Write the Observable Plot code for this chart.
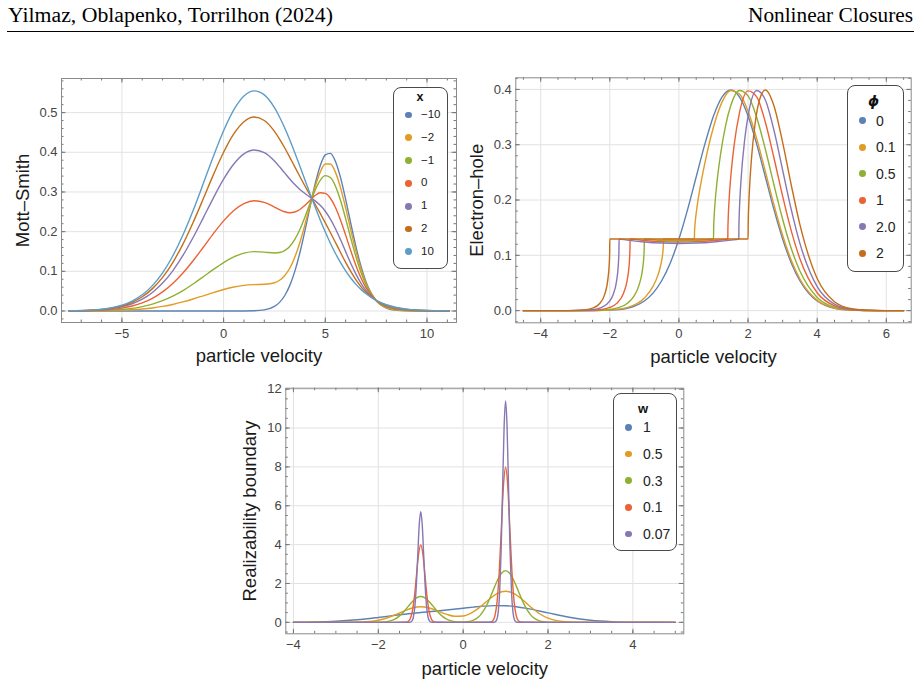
<!DOCTYPE html>
<html><head><meta charset="utf-8">
<script src="https://cdn.jsdelivr.net/npm/d3@7"></script>
<script src="https://cdn.jsdelivr.net/npm/@observablehq/plot@0.6"></script>
<style>
body{margin:0;background:#fff;}
#page{position:relative;width:921px;height:685px;overflow:hidden;font-family:"Liberation Sans",Arial,sans-serif;background:#fff;}
.legend{position:absolute;border:1px solid #4a4a4a;border-radius:8px;background:#fff;box-sizing:border-box;}
.ltitle{position:absolute;transform:translate(-50%,-50%);line-height:1;color:#111;white-space:nowrap;}
.ltext{position:absolute;transform:translateY(-50%);line-height:1;color:#222;white-space:nowrap;}
.ldot{position:absolute;width:6.8px;height:6.8px;border-radius:50%;}
</style></head><body><div id="page"></div>
<script>
// ---------- colours ----------
const palette = ["#5E81B5","#E19C24","#8FB032","#EB6235","#8778B3","#C56E1A","#5D9EC7"];

// ---------- Panel 1: Mott–Smith ----------
const msLabels = ["−10","−2","−1","0","1","2","10"];
const msV = [-7.6,-7,-6.5,-6,-5.5,-5,-4.5,-4,-3.5,-3,-2.5,-2,-1.5,-1,-0.5,0,0.5,1,1.5,2,2.5,2.75,3,3.25,3.5,3.75,4,4.25,4.5,4.75,5,5.25,5.5,5.75,6,6.25,6.5,6.75,7,7.5,8,8.5,9,9.5,10,10.5,11.1];
const msFm10 = [0,0,0,0,0,0,0,0,0,0,0,0,0,0,0,0,0,0.0001,0.0005,0.0027,0.0115,0.0217,0.0384,0.0639,0.0999,0.1468,0.2026,0.2627,0.3200,0.3662,0.3936,0.3974,0.3770,0.3360,0.2812,0.2212,0.1634,0.1134,0.0740,0.0261,0.0072,0.0015,0.0003,0,0,0,0];
const msFm2 = [0.0001,0.0001,0.0003,0.0005,0.0010,0.0017,0.0030,0.0049,0.0076,0.0115,0.0165,0.0228,0.0302,0.0383,0.0465,0.0541,0.0604,0.0647,0.0665,0.0673,0.0712,0.0774,0.0889,0.1077,0.1356,0.1728,0.2179,0.2666,0.3131,0.3499,0.3704,0.3704,0.3494,0.3104,0.2598,0.2047,0.1520,0.1064,0.0704,0.0262,0.0082,0.0024,0.0009,0.0003,0.0001,0.0001,0];
const msFm1 = [0.0001,0.0003,0.0006,0.0012,0.0022,0.0039,0.0067,0.0110,0.0172,0.0259,0.0373,0.0515,0.0681,0.0863,0.1049,0.1221,0.1363,0.1458,0.1496,0.1485,0.1462,0.1474,0.1523,0.1628,0.1803,0.2054,0.2369,0.2716,0.3044,0.3294,0.3413,0.3364,0.3146,0.2784,0.2328,0.1841,0.1377,0.0976,0.0658,0.0263,0.0095,0.0035,0.0015,0.0007,0.0003,0.0002,0.0001];
const msF0 = [0.0002,0.0006,0.0011,0.0022,0.0041,0.0073,0.0125,0.0204,0.0320,0.0481,0.0693,0.0957,0.1267,0.1606,0.1951,0.2271,0.2534,0.2709,0.2777,0.2738,0.2621,0.2555,0.2502,0.2478,0.2495,0.2559,0.2665,0.2792,0.2910,0.2979,0.2963,0.2841,0.2610,0.2289,0.1912,0.1522,0.1156,0.0840,0.0587,0.0264,0.0115,0.0053,0.0026,0.0012,0.0006,0.0003,0.0001];
const msF1 = [0.0003,0.0008,0.0017,0.0032,0.0060,0.0107,0.0182,0.0298,0.0468,0.0703,0.1013,0.1399,0.1852,0.2348,0.2853,0.3321,0.3704,0.3960,0.4058,0.3990,0.3778,0.3634,0.3480,0.3327,0.3186,0.3063,0.2960,0.2868,0.2776,0.2663,0.2514,0.2317,0.2074,0.1794,0.1496,0.1203,0.0934,0.0703,0.0516,0.0264,0.0134,0.0069,0.0036,0.0018,0.0009,0.0004,0.0001];
const msF2 = [0.0004,0.0010,0.0020,0.0039,0.0072,0.0128,0.0219,0.0359,0.0564,0.0847,0.1221,0.1686,0.2231,0.2828,0.3437,0.4001,0.4463,0.4771,0.4888,0.4802,0.4528,0.4334,0.4114,0.3878,0.3633,0.3390,0.3150,0.2918,0.2689,0.2459,0.2223,0.1978,0.1726,0.1474,0.1226,0.0997,0.0791,0.0615,0.0470,0.0265,0.0147,0.0080,0.0042,0.0022,0.0011,0.0005,0.0002];
const msF10 = [0.0005,0.0011,0.0023,0.0044,0.0082,0.0146,0.0249,0.0408,0.0640,0.0962,0.1386,0.1914,0.2533,0.3211,0.3902,0.4542,0.5067,0.5417,0.5549,0.5448,0.5125,0.4891,0.4619,0.4316,0.3990,0.3650,0.3303,0.2957,0.2620,0.2296,0.1991,0.1708,0.1450,0.1218,0.1012,0.0832,0.0677,0.0545,0.0434,0.0266,0.0157,0.0089,0.0048,0.0025,0.0012,0.0006,0.0002];
const msXTicks = [-5,0,5,10];
const msYTicks = [0,0.1,0.2,0.3,0.4,0.5];

// ---------- Panel 2: Electron–hole ----------
const ehLabels = ["0","0.1","0.5","1","2.0","2"];
const ehV0 = [-4.5,-4,-3.5,-3,-2.5,-2,-1.5,-1.25,-1,-0.75,-0.5,-0.25,0,0.25,0.5,0.75,1,1.25,1.5,1.75,2,2.25,2.5,2.75,3,3.25,3.5,3.75,4,4.25,4.5,5,5.5,6,6.5];
const ehF0 = [0,0,0,0,0.0001,0.0009,0.0044,0.0091,0.0175,0.0317,0.0540,0.0863,0.1295,0.1826,0.2420,0.3011,0.3520,0.3866,0.3989,0.3866,0.3520,0.3011,0.2420,0.1826,0.1295,0.0863,0.0540,0.0317,0.0175,0.0091,0.0044,0.0009,0.0001,0,0];
const ehV01 = [-4.5,-3.5,-3,-2.5,-2,-1.5,-1,-0.75,-0.6,-0.55,-0.5,-0.48,-0.46,-0.45,-0.4472,0,0.4472,0.45,0.46,0.48,0.5,0.55,0.6,0.75,1,1.25,1.5,1.75,2,2.25,2.5,2.75,3,3.25,3.5,4,4.5,5,5.5,6,6.5];
const ehF01 = [0,0,0,0.0002,0.0010,0.0054,0.0227,0.0438,0.0656,0.0761,0.0903,0.0982,0.1095,0.1200,0.1295,0.1293,0.1295,0.1394,0.1513,0.1657,0.1766,0.1989,0.2178,0.2666,0.3320,0.3774,0.3980,0.3916,0.3607,0.3111,0.2516,0.1910,0.1362,0.0910,0.0572,0.0187,0.0047,0.0009,0.0001,0,0];
const ehV05 = [-4.5,-3.5,-3,-2.5,-2,-1.75,-1.5,-1.3,-1.15,-1.05,-1.02,-1.005,-1,-0.5,0,0.5,1,1.005,1.02,1.05,1.1,1.2,1.35,1.5,1.75,2,2.25,2.5,2.75,3,3.25,3.5,4,4.5,5,5.5,6,6.5];
const ehF05 = [0,0,0,0.0003,0.0021,0.0054,0.0130,0.0264,0.0470,0.0761,0.0939,0.1109,0.1295,0.1272,0.1265,0.1272,0.1295,0.1497,0.1716,0.1989,0.2318,0.2811,0.3346,0.3708,0.3981,0.3883,0.3493,0.2918,0.2271,0.1652,0.1123,0.0715,0.0239,0.0062,0.0012,0.0002,0,0];
const ehV1 = [-4.5,-3.5,-3,-2.5,-2.25,-2,-1.8,-1.6,-1.5,-1.45,-1.425,-1.416,-1.4142,-1,-0.5,0,0.5,1,1.4142,1.416,1.425,1.45,1.5,1.6,1.75,2,2.25,2.5,2.75,3,3.25,3.5,4,4.5,5,5.5,6,6.5];
const ehF1 = [0,0,0.0001,0.0007,0.0020,0.0057,0.0131,0.0319,0.0540,0.0761,0.0981,0.1161,0.1295,0.1268,0.1247,0.1240,0.1247,0.1268,0.1295,0.1437,0.1658,0.1989,0.2420,0.3007,0.3573,0.3974,0.3866,0.3407,0.2760,0.2069,0.1443,0.0938,0.0323,0.0086,0.0017,0.0003,0,0];
const ehV15 = [-4.5,-3.5,-3,-2.5,-2.25,-2,-1.9,-1.8,-1.76,-1.74,-1.735,-1.7321,-1.5,-1,-0.5,0,0.5,1,1.5,1.7321,1.735,1.74,1.76,1.8,1.9,2,2.25,2.5,2.75,3,3.25,3.5,4,4.5,5,5.5,6,6.5];
const ehF15 = [0,0,0.0002,0.0017,0.0054,0.0175,0.0296,0.0551,0.0772,0.0996,0.1107,0.1295,0.1275,0.1242,0.1222,0.1215,0.1222,0.1242,0.1275,0.1295,0.1500,0.1639,0.1971,0.2395,0.3080,0.3520,0.3981,0.3810,0.3259,0.2542,0.1826,0.1216,0.0434,0.0118,0.0025,0.0004,0,0];
const ehV2 = [-4.5,-4,-3.5,-3,-2.75,-2.5,-2.3,-2.15,-2.05,-2.02,-2.005,-2,0,2,2.005,2.02,2.05,2.1,2.2,2.35,2.5,2.75,3,3.25,3.5,4,4.5,5,5.5,6,6.5];
const ehF2 = [0,0,0,0.0004,0.0013,0.0044,0.0124,0.0290,0.0596,0.0813,0.1037,0.1295,0.1295,0.1295,0.1585,0.1903,0.2299,0.2757,0.3365,0.3850,0.3989,0.3701,0.3043,0.2271,0.1556,0.0580,0.0162,0.0035,0.0006,0.0001,0];
const ehXTicks = [-4,-2,0,2,4,6];
const ehYTicks = [0,0.1,0.2,0.3,0.4];

// ---------- Panel 3: Realizability boundary ----------
const rbLabels = ["1","0.5","0.3","0.1","0.07"];
const rbV1 = [-4,-3.5,-3,-2.5,-2,-1.5,-1,-0.5,0,0.25,0.5,0.75,1,1.25,1.5,2,2.5,3,3.5,4,4.5,5];
const rbF1 = [0.0044,0.0175,0.0543,0.1312,0.2509,0.3870,0.5069,0.6111,0.7259,0.7849,0.8336,0.8596,0.8519,0.8050,0.7216,0.4883,0.2600,0.1081,0.0350,0.0089,0.0017,0.0003];
const rbV05 = [-4,-3.5,-3,-2.8,-2.6,-2.4,-2.2,-2,-1.8,-1.6,-1.4,-1.2,-1,-0.8,-0.6,-0.4,-0.2,0,0.2,0.4,0.6,0.8,1,1.2,1.4,1.6,1.8,2,2.2,2.4,2.6,2.8,3,3.5,4,5];
const rbF05 = [0,0,0.0003,0.0012,0.0048,0.0158,0.0448,0.1080,0.2218,0.3884,0.5794,0.7367,0.7984,0.7390,0.5889,0.4200,0.3113,0.3239,0.4884,0.7926,1.1635,1.4743,1.5961,1.4731,1.1587,0.7768,0.4436,0.2159,0.0895,0.0316,0.0095,0.0024,0.0005,0,0,0];
const rbV03 = [-4,-3,-2.3,-2.2,-2.1,-2,-1.9,-1.8,-1.7,-1.6,-1.5,-1.4,-1.3,-1.2,-1.1,-1,-0.9,-0.8,-0.7,-0.6,-0.5,-0.4,-0.3,-0.2,-0.1,0,0.1,0.2,0.3,0.4,0.5,0.6,0.7,0.8,0.9,1,1.1,1.2,1.3,1.4,1.5,1.6,1.7,1.8,1.9,2,2.1,2.2,2.3,3,4,5];
const rbF03 = [0,0,0.0001,0.0004,0.0016,0.0052,0.0148,0.0380,0.0874,0.1800,0.3317,0.5468,0.8066,1.0649,1.2582,1.3300,1.2582,1.0649,0.8066,0.5468,0.3317,0.1800,0.0876,0.0389,0.0180,0.0155,0.0311,0.0765,0.1749,0.3599,0.6634,1.0935,1.6133,2.1299,2.5164,2.6600,2.5164,2.1299,1.6133,1.0935,0.6634,0.3599,0.1748,0.0761,0.0295,0.0103,0.0032,0.0009,0.0002,0,0,0];
const rbV01 = [-4,-2,-1.4,-1.35,-1.3,-1.25,-1.2,-1.15,-1.1,-1.05,-1,-0.95,-0.9,-0.85,-0.8,-0.75,-0.7,-0.65,-0.6,0,0.6,0.65,0.7,0.75,0.8,0.85,0.9,0.95,1,1.05,1.1,1.15,1.2,1.25,1.3,1.35,1.4,2,5];
const rbF01 = [0,0,0.0013,0.0087,0.044,0.175,0.540,1.295,2.419,3.520,3.989,3.520,2.419,1.295,0.540,0.175,0.044,0.0087,0.0013,0,0.0027,0.0175,0.089,0.350,1.080,2.591,4.839,7.041,7.979,7.041,4.839,2.591,1.080,0.350,0.089,0.0175,0.0027,0,0];
const rbV007 = [-4,-2,-1.28,-1.245,-1.21,-1.175,-1.14,-1.105,-1.07,-1.035,-1,-0.965,-0.93,-0.895,-0.86,-0.825,-0.79,-0.755,-0.72,0,0.72,0.755,0.79,0.825,0.86,0.895,0.93,0.965,1,1.035,1.07,1.105,1.14,1.175,1.21,1.245,1.28,2,5];
const rbF007 = [0,0,0.0019,0.0125,0.063,0.250,0.771,1.850,3.456,5.029,5.699,5.029,3.456,1.850,0.771,0.250,0.063,0.0125,0.0019,0,0.0038,0.0250,0.127,0.500,1.542,3.701,6.913,10.059,11.398,10.059,6.913,3.701,1.542,0.500,0.127,0.0250,0.0038,0,0];
const rbXTicks = [-4,-2,0,2,4];
const rbYTicks = [0,2,4,6,8,10,12];

// ---------- helpers ----------
const page = document.getElementById("page");
const rows = (v, f) => v.map((x, i) => ({v: x, f: f[i]}));
const signFmt = d => (d < 0 ? "\u2212" + Math.abs(d) : String(d));
const fixed1 = d => d.toFixed(1);

function panel(o) {
  const {left, top, width, height, m} = o;
  const fw = width - m.left - m.right;
  const fh = height - m.top - m.bottom;
  const tickC = "#777";
  const marks = [
    Plot.gridX(o.xTicks, {stroke: "#e2e2e2", strokeOpacity: 1, strokeWidth: 1}),
    Plot.gridY(o.yTicks, {stroke: "#e2e2e2", strokeOpacity: 1, strokeWidth: 1}),
    ...o.series.map(s => Plot.line(rows(s.v, s.f), {x: "v", y: "f", stroke: s.color, strokeWidth: 1.4, curve: "monotone-x"})),
    Plot.tickX(o.xTicks, {x: d => d, insetTop: fh - 4.5, stroke: tickC}),
    Plot.tickX(o.xTicks, {x: d => d, insetBottom: fh - 4.5, stroke: tickC}),
    Plot.tickX(o.xMinor, {x: d => d, insetTop: fh - 2.5, stroke: tickC}),
    Plot.tickX(o.xMinor, {x: d => d, insetBottom: fh - 2.5, stroke: tickC}),
    Plot.tickY(o.yTicks, {y: d => d, insetRight: fw - 4.5, stroke: tickC}),
    Plot.tickY(o.yTicks, {y: d => d, insetLeft: fw - 4.5, stroke: tickC}),
    Plot.tickY(o.yMinor, {y: d => d, insetRight: fw - 2.5, stroke: tickC}),
    Plot.tickY(o.yMinor, {y: d => d, insetLeft: fw - 2.5, stroke: tickC}),
    Plot.frame({stroke: "#8a8a8a"}),
    Plot.axisX(o.xTicks, {anchor: "bottom", tickSize: 0, tickPadding: 6, tickFormat: o.xFmt, fontSize: 13, label: null}),
    Plot.axisY(o.yTicks, {anchor: "left", tickSize: 0, tickPadding: 4, tickFormat: o.yFmt, fontSize: 13, label: null}),
    Plot.text([o.xLabel], {frameAnchor: "bottom", dy: o.xLabelDy, fontSize: 18.5, textAnchor: "middle", lineAnchor: "middle", fill: "#1a1a1a", text: d => d}),
    Plot.text([o.yLabel], {frameAnchor: "left", dx: o.yLabelDx, rotate: -90, fontSize: 18.5, textAnchor: "middle", lineAnchor: "middle", fill: "#1a1a1a", text: d => d})
  ];
  const svg = Plot.plot({
    width, height,
    marginLeft: m.left, marginRight: m.right, marginTop: m.top, marginBottom: m.bottom,
    x: {domain: o.xDomain},
    y: {domain: o.yDomain},
    style: {background: "transparent", fontFamily: "'Liberation Sans', Arial, sans-serif", color: "#444", overflow: "visible"},
    marks
  });
  svg.style.position = "absolute";
  svg.style.left = left + "px";
  svg.style.top = top + "px";
  page.appendChild(svg);
}

function legend(o) {
  const box = document.createElement("div");
  box.className = "legend";
  Object.assign(box.style, {left: o.left + "px", top: o.top + "px", width: o.width + "px", height: o.height + "px"});
  const t = document.createElement("div");
  t.className = "ltitle";
  t.textContent = o.title;
  Object.assign(t.style, {left: (o.titleX - 1) + "px", top: (o.titleY - 1) + "px", font: o.titleFont});
  box.appendChild(t);
  o.labels.forEach((lab, i) => {
    const y = o.y0 + o.dy * i - 1;
    const dot = document.createElement("div");
    dot.className = "ldot";
    Object.assign(dot.style, {left: (o.dotX - 1 - 3.4) + "px", top: (y - 3.4) + "px", background: o.colors[i]});
    const tx = document.createElement("div");
    tx.className = "ltext";
    tx.textContent = lab;
    Object.assign(tx.style, {left: (o.labelX - 1) + "px", top: y + "px", fontSize: o.fontSize + "px"});
    box.appendChild(dot);
    box.appendChild(tx);
  });
  page.appendChild(box);
}

// ---------- header ----------
const header = document.createElementNS("http://www.w3.org/2000/svg", "svg");
header.setAttribute("width", 921); header.setAttribute("height", 40);
header.style.position = "absolute"; header.style.left = "0px"; header.style.top = "0px";
header.innerHTML =
  '<text x="8" y="22" font-family="Liberation Serif, serif" font-size="20.5" textLength="325" lengthAdjust="spacingAndGlyphs" fill="#000">Yilmaz, Oblapenko, Torrilhon (2024)</text>' +
  '<text x="913" y="22" text-anchor="end" font-family="Liberation Serif, serif" font-size="20.5" textLength="165" lengthAdjust="spacingAndGlyphs" fill="#000">Nonlinear Closures</text>' +
  '<line x1="7" x2="914" y1="31.5" y2="31.5" stroke="#000" stroke-width="1.2"/>';
page.appendChild(header);

// ---------- panel 1 ----------
panel({
  left: 0, top: 60, width: 460, height: 310,
  m: {left: 61, right: 4, top: 18, bottom: 48},
  xDomain: [-7.97, 11.45], yDomain: [-0.029, 0.586],
  xTicks: msXTicks, yTicks: msYTicks,
  xMinor: d3.range(-7, 12, 1), yMinor: d3.range(-0.02, 0.585, 0.02),
  xFmt: signFmt, yFmt: fixed1,
  xLabel: "particle velocity", xLabelDy: 34,
  yLabel: "Mott\u2013Smith", yLabelDx: -38.5,
  series: [
    {v: msV, f: msFm10, color: palette[0]},
    {v: msV, f: msFm2, color: palette[1]},
    {v: msV, f: msFm1, color: palette[2]},
    {v: msV, f: msF0, color: palette[3]},
    {v: msV, f: msF1, color: palette[4]},
    {v: msV, f: msF2, color: palette[5]},
    {v: msV, f: msF10, color: palette[6]}
  ]
});

// ---------- panel 2 ----------
panel({
  left: 460, top: 60, width: 461, height: 310,
  m: {left: 55.3, right: 10.3, top: 17.3, bottom: 47.7},
  xDomain: [-4.72, 6.72], yDomain: [-0.022, 0.421],
  xTicks: ehXTicks, yTicks: ehYTicks,
  xMinor: d3.range(-4.5, 6.6, 0.5), yMinor: d3.range(-0.02, 0.421, 0.02),
  xFmt: signFmt, yFmt: fixed1,
  xLabel: "particle velocity", xLabelDy: 34,
  yLabel: "Electron\u2013hole", yLabelDx: -38.6,
  series: [
    {v: ehV0, f: ehF0, color: palette[0]},
    {v: ehV01, f: ehF01, color: palette[1]},
    {v: ehV05, f: ehF05, color: palette[2]},
    {v: ehV1, f: ehF1, color: palette[3]},
    {v: ehV15, f: ehF15, color: palette[4]},
    {v: ehV2, f: ehF2, color: palette[5]}
  ]
});

// ---------- panel 3 ----------
panel({
  left: 230, top: 375, width: 460, height: 310,
  m: {left: 55.3, right: 6.7, top: 12.7, bottom: 51.7},
  xDomain: [-4.18, 5.2], yDomain: [-0.59, 12.05],
  xTicks: rbXTicks, yTicks: rbYTicks,
  xMinor: d3.range(-4, 5.1, 0.5), yMinor: d3.range(-0.5, 12.01, 0.5),
  xFmt: signFmt, yFmt: d => String(d),
  xLabel: "particle velocity", xLabelDy: 35,
  yLabel: "Realizability boundary", yLabelDx: -35.3,
  series: [
    {v: rbV1, f: rbF1, color: palette[0]},
    {v: rbV05, f: rbF05, color: palette[1]},
    {v: rbV03, f: rbF03, color: palette[2]},
    {v: rbV01, f: rbF01, color: palette[3]},
    {v: rbV007, f: rbF007, color: palette[4]}
  ]
});

// ---------- legends ----------
legend({left: 392.7, top: 87.3, width: 55.6, height: 182, title: "x", titleFont: "bold 12.5px 'Liberation Sans', Arial, sans-serif",
  titleX: 27.3, titleY: 9.9, labels: msLabels, colors: palette, dotX: 15.6, y0: 27.7, dy: 22.8, labelX: 28.3, fontSize: 11.5});
legend({left: 846.7, top: 85, width: 57.3, height: 186.7, title: "\u03D5", titleFont: "italic bold 14px 'DejaVu Sans', sans-serif",
  titleX: 27, titleY: 15.7, labels: ehLabels, colors: palette, dotX: 15.6, y0: 35.7, dy: 26.5, labelX: 29.3, fontSize: 14});
legend({left: 613.3, top: 393.3, width: 64, height: 157.4, title: "w", titleFont: "bold 13px 'Liberation Sans', Arial, sans-serif",
  titleX: 29.7, titleY: 14.4, labels: rbLabels, colors: palette, dotX: 15, y0: 34, dy: 26.7, labelX: 29.7, fontSize: 14});
</script></body></html>
